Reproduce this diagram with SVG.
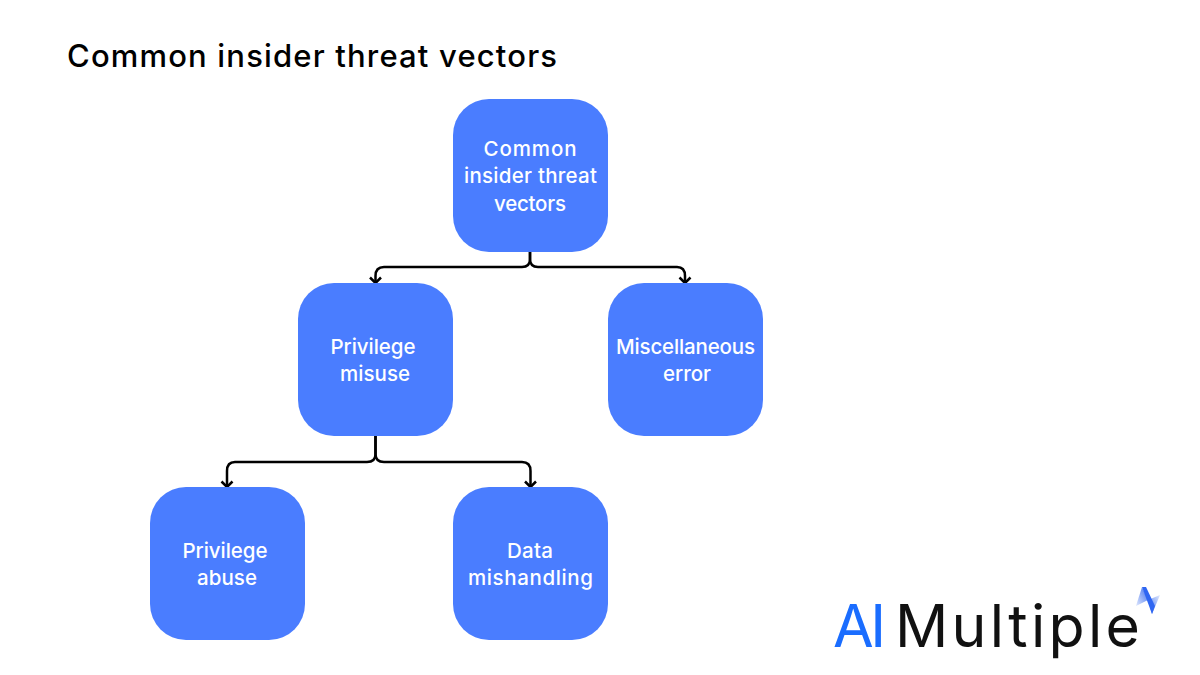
<svg xmlns="http://www.w3.org/2000/svg" width="1200" height="675" viewBox="0 0 1200 675">
<style>
.t{font-family:"Inter","Open Sans","Noto Sans",sans-serif;font-size:20.500px;font-weight:500;fill:#fff;text-anchor:middle}
.n{fill:#4a7dff}
.c{fill:none;stroke:#000;stroke-width:2.5}
.l{font-family:"Inter",sans-serif;font-size:59px}
</style>
<defs>
<marker id="a" markerWidth="14" markerHeight="14" refX="7" refY="7" orient="auto" markerUnits="userSpaceOnUse"><path d="M1.500 1.500L7 7L1.500 12.500" fill="none" stroke="#000" stroke-width="2.500"/></marker>
<linearGradient id="g1" x1="1" y1="0" x2="0" y2="1"><stop offset="0" stop-color="#3a6df0"/><stop offset="1" stop-color="#3a6df0" stop-opacity=".15"/></linearGradient>
<linearGradient id="g2" x1="0" y1="1" x2="1" y2="0"><stop offset="0" stop-color="#3a6df0"/><stop offset="1" stop-color="#3a6df0" stop-opacity=".15"/></linearGradient>
</defs>
<rect width="1200" height="675" fill="#fff"/>
<text x="67" y="67" font-family="Inter,sans-serif" font-size="31" font-weight="500" fill="#000" textLength="490" lengthAdjust="spacing">Common insider threat vectors</text>
<g id="connectors">
<path class="c" marker-end="url(#a)" d="M530 252V259Q530 267 522 267H384Q375.500 267 375.500 276V283"/>
<path class="c" marker-end="url(#a)" d="M530 252V259Q530 267 538 267H677Q685 267 685 276V283"/>
<path class="c" marker-end="url(#a)" d="M375.500 436V454Q375.500 462 367 462H235Q227 462 227 471V487"/>
<path class="c" marker-end="url(#a)" d="M375.500 436V454Q375.500 462 384 462H522Q530.500 462 530.500 471V487"/>
</g>
<g id="root"><rect class="n" x="453" y="99" width="155" height="153" rx="36"/><text class="t" x="530" y="156" textLength="93">Common</text><text class="t" x="530.500" y="183" textLength="133">insider threat</text><text class="t" x="530" y="211" textLength="72">vectors</text></g>
<g id="misuse"><rect class="n" x="298" y="283" width="155" height="153" rx="36"/><text class="t" x="373" y="354" textLength="85">Privilege</text><text class="t" x="375" y="381" textLength="70">misuse</text></g>
<g id="error"><rect class="n" x="608" y="283" width="155" height="153" rx="36"/><text class="t" x="685.500" y="354" textLength="139">Miscellaneous</text><text class="t" x="687" y="381" textLength="48">error</text></g>
<g id="abuse"><rect class="n" x="150" y="487" width="155" height="153" rx="36"/><text class="t" x="225" y="558" textLength="85">Privilege</text><text class="t" x="227" y="585" textLength="60">abuse</text></g>
<g id="data"><rect class="n" x="453" y="487" width="155" height="153" rx="36"/><text class="t" x="530" y="558" textLength="46">Data</text><text class="t" x="530.500" y="585" textLength="125">mishandling</text></g>
<g id="logo"><text class="l" x="833" y="647" fill="#1a6dff" textLength="53">AI</text><text class="l" x="895" y="647" fill="#111" textLength="245">Multiple</text>
<path d="M1142 587L1136 606L1148 600Z" fill="url(#g1)"/><path d="M1152 614L1160 595L1148 600Z" fill="url(#g2)"/><path d="M1142 587L1146 587L1155 606L1152 614Z" fill="#2f66f2"/></g>
</svg>
